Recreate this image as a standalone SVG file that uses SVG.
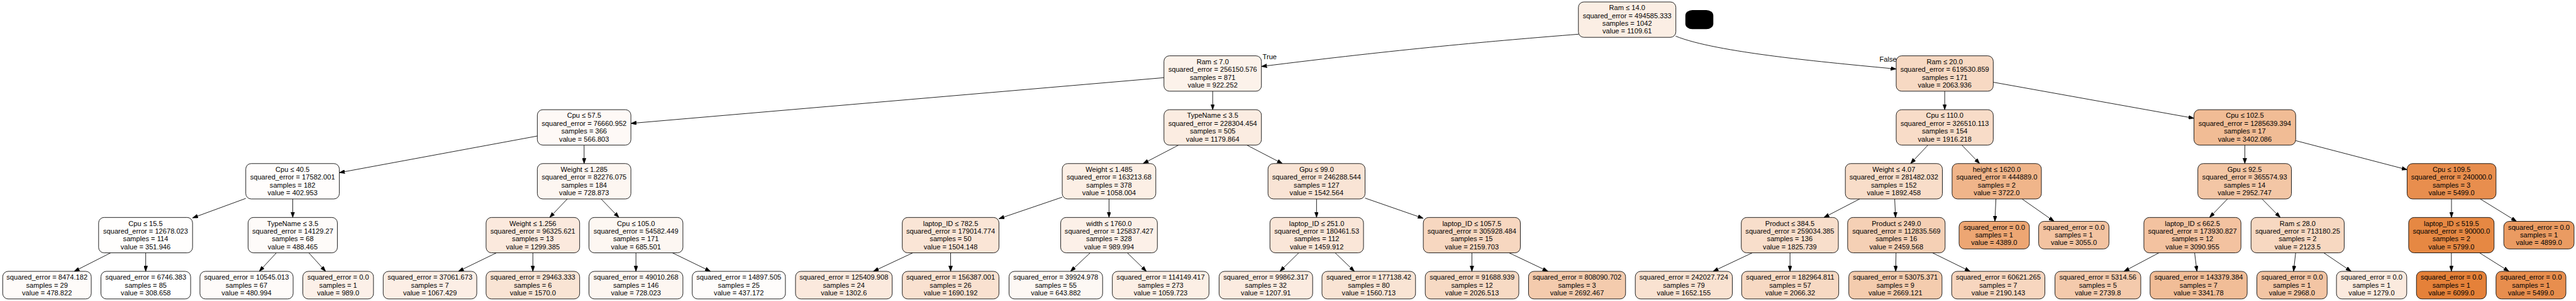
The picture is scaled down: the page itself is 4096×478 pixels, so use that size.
<svg xmlns="http://www.w3.org/2000/svg" width="4096" height="478" viewBox="0 0 4096 478">
<style>
.node rect{stroke:#000;stroke-width:1.4}
.node text,.lbl{font-family:"Liberation Sans",Arial,Helvetica,sans-serif;font-size:18px;fill:#000}
.node text{text-anchor:middle}
.edge{stroke:#000;stroke-width:1.4;fill:none;marker-end:url(#arr)}
</style>
<defs>
<marker id="arr" markerUnits="userSpaceOnUse" markerWidth="14" markerHeight="10" viewBox="0 0 14 10" refX="14" refY="5" orient="auto"><path d="M0,0 L14,5 L0,10 z" fill="#000" stroke="#000" stroke-width="1"/></marker>
</defs>
<rect width="4096" height="478" fill="#fff"/>
<g transform="scale(0.617332)">
<g id="connectors">
<path class="edge" d="M4066,88 C3850,105 3600,127 3249,171"/>
<path class="edge" d="M4316,93 C4420,135 4700,160 4884,177.5"/>
<path class="edge" d="M2998,199.8 L1625,317.4"/>
<path class="edge" d="M3123.5,234.6 L3123.5,282.2"/>
<path class="edge" d="M5009,234.6 L5009,282.2"/>
<path class="edge" d="M5134,211.5 L5651,304.2"/>
<path class="edge" d="M1384,349.9 L874,444.1"/>
<path class="edge" d="M1504.5,373.2 L1504.5,420.8"/>
<path class="edge" d="M3035.8,373.2 L2944.2,420.8"/>
<path class="edge" d="M3211.3,373.2 L3303.2,420.8"/>
<path class="edge" d="M4966,373.2 L4921,420.8"/>
<path class="edge" d="M5053,373.2 L5099,420.8"/>
<path class="edge" d="M5782,373.2 L5782,420.8"/>
<path class="edge" d="M5913,361.8 L6200,436.5"/>
<path class="edge" d="M633,510.4 L496,560.6"/>
<path class="edge" d="M754,511.8 L754,559.4"/>
<path class="edge" d="M1461.2,511.8 L1415.8,559.4"/>
<path class="edge" d="M1548.3,511.8 L1594.2,559.4"/>
<path class="edge" d="M2736,507.2 L2573,562.6"/>
<path class="edge" d="M2856.5,511.8 L2856.5,559.4"/>
<path class="edge" d="M3391,511.8 L3391,559.4"/>
<path class="edge" d="M3516,509.6 L3666,561.6"/>
<path class="edge" d="M4790,511.8 L4698,559.4"/>
<path class="edge" d="M4880.1,511.8 L4882.4,559.4"/>
<path class="edge" d="M5140.9,511.8 L5138.2,569.4"/>
<path class="edge" d="M5208.2,511.8 L5290.7,569.4"/>
<path class="edge" d="M5737.3,511.8 L5691.2,559.4"/>
<path class="edge" d="M5826.3,511.8 L5873.2,559.4"/>
<path class="edge" d="M6314.3,511.8 L6314.3,559.4"/>
<path class="edge" d="M6388.4,511.8 L6481.9,569.4"/>
<path class="edge" d="M285.1,650.4 L191.1,698"/>
<path class="edge" d="M375.3,650.4 L375.3,698"/>
<path class="edge" d="M711.9,650.4 L667.8,698"/>
<path class="edge" d="M795.4,650.4 L838.7,698"/>
<path class="edge" d="M1278.7,650.4 L1180.6,698"/>
<path class="edge" d="M1372.5,650.4 L1372.5,698"/>
<path class="edge" d="M1638,650.4 L1638,698"/>
<path class="edge" d="M1731.8,650.4 L1829.9,698"/>
<path class="edge" d="M2351.2,650.4 L2249.4,698"/>
<path class="edge" d="M2448.5,650.4 L2448.5,698"/>
<path class="edge" d="M2808,650.4 L2757.3,698"/>
<path class="edge" d="M2903.6,650.4 L2952.8,698"/>
<path class="edge" d="M3345.2,650.4 L3296.7,698"/>
<path class="edge" d="M3438.9,650.4 L3488.5,698"/>
<path class="edge" d="M3791.2,650.4 L3791.2,698"/>
<path class="edge" d="M3886.9,650.4 L3987.2,698"/>
<path class="edge" d="M4513.4,650.4 L4412.3,698"/>
<path class="edge" d="M4610.5,650.4 L4610.5,698"/>
<path class="edge" d="M4883.6,650.4 L4882.7,698"/>
<path class="edge" d="M4977.4,650.4 L5074.5,698"/>
<path class="edge" d="M5560.9,650.4 L5470.7,698"/>
<path class="edge" d="M5652.7,650.4 L5658.6,698"/>
<path class="edge" d="M5912.9,650.4 L5907.5,698"/>
<path class="edge" d="M5985.4,650.4 L6055.9,698"/>
<path class="edge" d="M6314,650.4 L6314,698"/>
<path class="edge" d="M6386.5,650.4 L6462.4,698"/>
<text class="lbl" x="3252" y="151.5">True</text>
<text class="lbl" x="4841" y="158">False</text>
</g>
<rect x="4341" y="26" width="72" height="49" rx="18" ry="14" fill="#000"/>
<g id="n0" class="node"><rect x="4065.5" y="5" width="251" height="91" rx="14" fill="#fbeee4"/><text x="4191" y="26.5">Ram ≤ 14.0</text><text x="4191" y="46.5">squared_error = 494585.333</text><text x="4191" y="66.5">samples = 1042</text><text x="4191" y="86.5">value = 1109.61</text></g>
<g id="n1" class="node"><rect x="2998" y="143.6" width="251" height="91" rx="14" fill="#fcf2ea"/><text x="3123.5" y="165.1">Ram ≤ 7.0</text><text x="3123.5" y="185.1">squared_error = 256150.576</text><text x="3123.5" y="205.1">samples = 871</text><text x="3123.5" y="225.1">value = 922.252</text></g>
<g id="n2" class="node"><rect x="4884" y="143.6" width="250" height="91" rx="14" fill="#f7d9c3"/><text x="5009" y="165.1">Ram ≤ 20.0</text><text x="5009" y="185.1">squared_error = 619530.859</text><text x="5009" y="205.1">samples = 171</text><text x="5009" y="225.1">value = 2063.936</text></g>
<g id="n3" class="node"><rect x="1384" y="282.2" width="241" height="91" rx="14" fill="#fef9f6"/><text x="1504.5" y="303.7">Cpu ≤ 57.5</text><text x="1504.5" y="323.7">squared_error = 76660.952</text><text x="1504.5" y="343.7">samples = 366</text><text x="1504.5" y="363.7">value = 566.803</text></g>
<g id="n4" class="node"><rect x="2998" y="282.2" width="251" height="91" rx="14" fill="#fbece1"/><text x="3123.5" y="303.7">TypeName ≤ 3.5</text><text x="3123.5" y="323.7">squared_error = 228304.454</text><text x="3123.5" y="343.7">samples = 505</text><text x="3123.5" y="363.7">value = 1179.864</text></g>
<g id="n5" class="node"><rect x="4884" y="282.2" width="250" height="91" rx="14" fill="#f8dcc8"/><text x="5009" y="303.7">Cpu ≤ 110.0</text><text x="5009" y="323.7">squared_error = 326510.113</text><text x="5009" y="343.7">samples = 154</text><text x="5009" y="363.7">value = 1916.218</text></g>
<g id="n6" class="node"><rect x="5651" y="282.2" width="262" height="91" rx="14" fill="#f1bc95"/><text x="5782" y="303.7">Cpu ≤ 102.5</text><text x="5782" y="323.7">squared_error = 1285639.394</text><text x="5782" y="343.7">samples = 17</text><text x="5782" y="363.7">value = 3402.086</text></g>
<g id="n7" class="node"><rect x="633" y="420.8" width="241" height="91" rx="14" fill="#fffdfc"/><text x="753.5" y="442.3">Cpu ≤ 40.5</text><text x="753.5" y="462.3">squared_error = 17582.001</text><text x="753.5" y="482.3">samples = 182</text><text x="753.5" y="502.3">value = 402.953</text></g>
<g id="n8" class="node"><rect x="1384" y="420.8" width="241" height="91" rx="14" fill="#fdf6f1"/><text x="1504.5" y="442.3">Weight ≤ 1.285</text><text x="1504.5" y="462.3">squared_error = 82276.075</text><text x="1504.5" y="482.3">samples = 184</text><text x="1504.5" y="502.3">value = 728.873</text></g>
<g id="n9" class="node"><rect x="2736" y="420.8" width="241" height="91" rx="14" fill="#fcefe5"/><text x="2856.5" y="442.3">Weight ≤ 1.485</text><text x="2856.5" y="462.3">squared_error = 163213.68</text><text x="2856.5" y="482.3">samples = 378</text><text x="2856.5" y="502.3">value = 1058.004</text></g>
<g id="n10" class="node"><rect x="3266" y="420.8" width="250" height="91" rx="14" fill="#f9e4d5"/><text x="3391" y="442.3">Gpu ≤ 99.0</text><text x="3391" y="462.3">squared_error = 246288.544</text><text x="3391" y="482.3">samples = 127</text><text x="3391" y="502.3">value = 1542.564</text></g>
<g id="n11" class="node"><rect x="4753" y="420.8" width="250" height="91" rx="14" fill="#f8ddc9"/><text x="4878" y="442.3">Weight ≤ 4.07</text><text x="4878" y="462.3">squared_error = 281482.032</text><text x="4878" y="482.3">samples = 152</text><text x="4878" y="502.3">value = 1892.458</text></g>
<g id="n12" class="node"><rect x="5028" y="420.8" width="230" height="91" rx="14" fill="#f0b58a"/><text x="5143" y="442.3">height ≤ 1620.0</text><text x="5143" y="462.3">squared_error = 444889.0</text><text x="5143" y="482.3">samples = 2</text><text x="5143" y="502.3">value = 3722.0</text></g>
<g id="n13" class="node"><rect x="5661" y="420.8" width="241" height="91" rx="14" fill="#f3c6a5"/><text x="5781.5" y="442.3">Gpu ≤ 92.5</text><text x="5781.5" y="462.3">squared_error = 365574.93</text><text x="5781.5" y="482.3">samples = 14</text><text x="5781.5" y="502.3">value = 2952.747</text></g>
<g id="n14" class="node"><rect x="6200" y="420.8" width="229" height="91" rx="14" fill="#e88e4e"/><text x="6314.5" y="442.3">Cpu ≤ 109.5</text><text x="6314.5" y="462.3">squared_error = 240000.0</text><text x="6314.5" y="482.3">samples = 3</text><text x="6314.5" y="502.3">value = 5499.0</text></g>
<g id="n15" class="node"><rect x="254" y="559.4" width="242" height="91" rx="14" fill="#fffefd"/><text x="375" y="580.9">Cpu ≤ 15.5</text><text x="375" y="600.9">squared_error = 12678.023</text><text x="375" y="620.9">samples = 114</text><text x="375" y="640.9">value = 351.946</text></g>
<g id="n16" class="node"><rect x="639" y="559.4" width="230" height="91" rx="14" fill="#fefbf9"/><text x="754" y="580.9">TypeName ≤ 3.5</text><text x="754" y="600.9">squared_error = 14129.27</text><text x="754" y="620.9">samples = 68</text><text x="754" y="640.9">value = 488.465</text></g>
<g id="n17" class="node"><rect x="1252" y="559.4" width="241" height="91" rx="14" fill="#fbe9dd"/><text x="1372.5" y="580.9">Weight ≤ 1.256</text><text x="1372.5" y="600.9">squared_error = 96325.621</text><text x="1372.5" y="620.9">samples = 13</text><text x="1372.5" y="640.9">value = 1299.385</text></g>
<g id="n18" class="node"><rect x="1517" y="559.4" width="242" height="91" rx="14" fill="#fdf7f2"/><text x="1638" y="580.9">Cpu ≤ 105.0</text><text x="1638" y="600.9">squared_error = 54582.449</text><text x="1638" y="620.9">samples = 171</text><text x="1638" y="640.9">value = 685.501</text></g>
<g id="n19" class="node"><rect x="2324" y="559.4" width="249" height="91" rx="14" fill="#fae5d6"/><text x="2448.5" y="580.9">laptop_ID ≤ 782.5</text><text x="2448.5" y="600.9">squared_error = 179014.774</text><text x="2448.5" y="620.9">samples = 50</text><text x="2448.5" y="640.9">value = 1504.148</text></g>
<g id="n20" class="node"><rect x="2732" y="559.4" width="249" height="91" rx="14" fill="#fcf0e8"/><text x="2856.5" y="580.9">width ≤ 1760.0</text><text x="2856.5" y="600.9">squared_error = 125837.427</text><text x="2856.5" y="620.9">samples = 328</text><text x="2856.5" y="640.9">value = 989.994</text></g>
<g id="n21" class="node"><rect x="3271" y="559.4" width="241" height="91" rx="14" fill="#fae6d8"/><text x="3391.5" y="580.9">laptop_ID ≤ 251.0</text><text x="3391.5" y="600.9">squared_error = 180461.53</text><text x="3391.5" y="620.9">samples = 112</text><text x="3391.5" y="640.9">value = 1459.912</text></g>
<g id="n22" class="node"><rect x="3666" y="559.4" width="250" height="91" rx="14" fill="#f7d7c0"/><text x="3791" y="580.9">laptop_ID ≤ 1057.5</text><text x="3791" y="600.9">squared_error = 305928.484</text><text x="3791" y="620.9">samples = 15</text><text x="3791" y="640.9">value = 2159.703</text></g>
<g id="n23" class="node"><rect x="4485" y="559.4" width="250" height="91" rx="14" fill="#f8decb"/><text x="4610" y="580.9">Product ≤ 384.5</text><text x="4610" y="600.9">squared_error = 259034.385</text><text x="4610" y="620.9">samples = 136</text><text x="4610" y="640.9">value = 1825.739</text></g>
<g id="n24" class="node"><rect x="4759" y="559.4" width="251" height="91" rx="14" fill="#f5d0b5"/><text x="4884.5" y="580.9">Product ≤ 249.0</text><text x="4884.5" y="600.9">squared_error = 112835.569</text><text x="4884.5" y="620.9">samples = 16</text><text x="4884.5" y="640.9">value = 2459.568</text></g>
<g id="n25" class="node"><rect x="5046" y="569.4" width="181" height="71" rx="14" fill="#eda673"/><text x="5136.5" y="590.9">squared_error = 0.0</text><text x="5136.5" y="610.9">samples = 1</text><text x="5136.5" y="630.9">value = 4389.0</text></g>
<g id="n26" class="node"><rect x="5251" y="569.4" width="181" height="71" rx="14" fill="#f3c3a1"/><text x="5341.5" y="590.9">squared_error = 0.0</text><text x="5341.5" y="610.9">samples = 1</text><text x="5341.5" y="630.9">value = 3055.0</text></g>
<g id="n27" class="node"><rect x="5522" y="559.4" width="250" height="91" rx="14" fill="#f3c2a0"/><text x="5647" y="580.9">laptop_ID ≤ 662.5</text><text x="5647" y="600.9">squared_error = 173930.827</text><text x="5647" y="620.9">samples = 12</text><text x="5647" y="640.9">value = 3090.955</text></g>
<g id="n28" class="node"><rect x="5798" y="559.4" width="240" height="91" rx="14" fill="#f7d8c1"/><text x="5918" y="580.9">Ram ≤ 28.0</text><text x="5918" y="600.9">squared_error = 713180.25</text><text x="5918" y="620.9">samples = 2</text><text x="5918" y="640.9">value = 2123.5</text></g>
<g id="n29" class="node"><rect x="6204" y="559.4" width="220" height="91" rx="14" fill="#e68843"/><text x="6314" y="580.9">laptop_ID ≤ 519.5</text><text x="6314" y="600.9">squared_error = 90000.0</text><text x="6314" y="620.9">samples = 2</text><text x="6314" y="640.9">value = 5799.0</text></g>
<g id="n30" class="node"><rect x="6449" y="569.4" width="181" height="71" rx="14" fill="#ea9b62"/><text x="6539.5" y="590.9">squared_error = 0.0</text><text x="6539.5" y="610.9">samples = 1</text><text x="6539.5" y="630.9">value = 4899.0</text></g>
<g id="l1" class="node"><rect x="7" y="698" width="228" height="71" rx="14" fill="#fefbf9"/><text x="121" y="719.5">squared_error = 8474.182</text><text x="121" y="739.5">samples = 29</text><text x="121" y="759.5">value = 478.822</text></g>
<g id="l2" class="node"><rect x="260" y="698" width="231" height="71" rx="14" fill="#ffffff"/><text x="375.5" y="719.5">squared_error = 6746.383</text><text x="375.5" y="739.5">samples = 85</text><text x="375.5" y="759.5">value = 308.658</text></g>
<g id="l3" class="node"><rect x="515" y="698" width="240" height="71" rx="14" fill="#fefbf9"/><text x="635" y="719.5">squared_error = 10545.013</text><text x="635" y="739.5">samples = 67</text><text x="635" y="759.5">value = 480.994</text></g>
<g id="l4" class="node"><rect x="780" y="698" width="182" height="71" rx="14" fill="#fcf0e8"/><text x="871" y="719.5">squared_error = 0.0</text><text x="871" y="739.5">samples = 1</text><text x="871" y="759.5">value = 989.0</text></g>
<g id="l5" class="node"><rect x="987" y="698" width="241" height="71" rx="14" fill="#fceee5"/><text x="1107.5" y="719.5">squared_error = 37061.673</text><text x="1107.5" y="739.5">samples = 7</text><text x="1107.5" y="759.5">value = 1067.429</text></g>
<g id="l6" class="node"><rect x="1252" y="698" width="241" height="71" rx="14" fill="#f9e4d4"/><text x="1372.5" y="719.5">squared_error = 29463.333</text><text x="1372.5" y="739.5">samples = 6</text><text x="1372.5" y="759.5">value = 1570.0</text></g>
<g id="l7" class="node"><rect x="1517" y="698" width="242" height="71" rx="14" fill="#fdf6f1"/><text x="1638" y="719.5">squared_error = 49010.268</text><text x="1638" y="739.5">samples = 146</text><text x="1638" y="759.5">value = 728.023</text></g>
<g id="l8" class="node"><rect x="1783" y="698" width="240" height="71" rx="14" fill="#fefcfb"/><text x="1903" y="719.5">squared_error = 14897.505</text><text x="1903" y="739.5">samples = 25</text><text x="1903" y="759.5">value = 437.172</text></g>
<g id="l9" class="node"><rect x="2049" y="698" width="249" height="71" rx="14" fill="#fbe9dd"/><text x="2173.5" y="719.5">squared_error = 125409.908</text><text x="2173.5" y="739.5">samples = 24</text><text x="2173.5" y="759.5">value = 1302.6</text></g>
<g id="l10" class="node"><rect x="2324" y="698" width="249" height="71" rx="14" fill="#f9e1d0"/><text x="2448.5" y="719.5">squared_error = 156387.001</text><text x="2448.5" y="739.5">samples = 26</text><text x="2448.5" y="759.5">value = 1690.192</text></g>
<g id="l11" class="node"><rect x="2599" y="698" width="241" height="71" rx="14" fill="#fdf8f4"/><text x="2719.5" y="719.5">squared_error = 39924.978</text><text x="2719.5" y="739.5">samples = 55</text><text x="2719.5" y="759.5">value = 643.882</text></g>
<g id="l12" class="node"><rect x="2865" y="698" width="249" height="71" rx="14" fill="#fcefe5"/><text x="2989.5" y="719.5">squared_error = 114149.417</text><text x="2989.5" y="739.5">samples = 273</text><text x="2989.5" y="759.5">value = 1059.723</text></g>
<g id="l13" class="node"><rect x="3140" y="698" width="241" height="71" rx="14" fill="#fbebe0"/><text x="3260.5" y="719.5">squared_error = 99862.317</text><text x="3260.5" y="739.5">samples = 32</text><text x="3260.5" y="759.5">value = 1207.91</text></g>
<g id="l14" class="node"><rect x="3405" y="698" width="241" height="71" rx="14" fill="#f9e4d4"/><text x="3525.5" y="719.5">squared_error = 177138.42</text><text x="3525.5" y="739.5">samples = 80</text><text x="3525.5" y="759.5">value = 1560.713</text></g>
<g id="l15" class="node"><rect x="3671" y="698" width="241" height="71" rx="14" fill="#f7dac4"/><text x="3791.5" y="719.5">squared_error = 91688.939</text><text x="3791.5" y="739.5">samples = 12</text><text x="3791.5" y="759.5">value = 2026.513</text></g>
<g id="l16" class="node"><rect x="3937" y="698" width="250" height="71" rx="14" fill="#f4cbad"/><text x="4062" y="719.5">squared_error = 808090.702</text><text x="4062" y="739.5">samples = 3</text><text x="4062" y="759.5">value = 2692.467</text></g>
<g id="l17" class="node"><rect x="4212" y="698" width="250" height="71" rx="14" fill="#f9e2d1"/><text x="4337" y="719.5">squared_error = 242027.724</text><text x="4337" y="739.5">samples = 79</text><text x="4337" y="759.5">value = 1652.155</text></g>
<g id="l18" class="node"><rect x="4486" y="698" width="250" height="71" rx="14" fill="#f7d9c3"/><text x="4611" y="719.5">squared_error = 182964.811</text><text x="4611" y="739.5">samples = 57</text><text x="4611" y="759.5">value = 2066.32</text></g>
<g id="l19" class="node"><rect x="4762" y="698" width="240" height="71" rx="14" fill="#f4ccae"/><text x="4882" y="719.5">squared_error = 53075.371</text><text x="4882" y="739.5">samples = 9</text><text x="4882" y="759.5">value = 2669.121</text></g>
<g id="l20" class="node"><rect x="5027" y="698" width="240" height="71" rx="14" fill="#f7d6bf"/><text x="5147" y="719.5">squared_error = 60621.265</text><text x="5147" y="739.5">samples = 7</text><text x="5147" y="759.5">value = 2190.143</text></g>
<g id="l21" class="node"><rect x="5293" y="698" width="221" height="71" rx="14" fill="#f4caac"/><text x="5403.5" y="719.5">squared_error = 5314.56</text><text x="5403.5" y="739.5">samples = 5</text><text x="5403.5" y="759.5">value = 2739.8</text></g>
<g id="l22" class="node"><rect x="5538" y="698" width="250" height="71" rx="14" fill="#f1bd97"/><text x="5663" y="719.5">squared_error = 143379.384</text><text x="5663" y="739.5">samples = 7</text><text x="5663" y="759.5">value = 3341.78</text></g>
<g id="l23" class="node"><rect x="5813" y="698" width="181" height="71" rx="14" fill="#f3c5a4"/><text x="5903.5" y="719.5">squared_error = 0.0</text><text x="5903.5" y="739.5">samples = 1</text><text x="5903.5" y="759.5">value = 2968.0</text></g>
<g id="l24" class="node"><rect x="6018" y="698" width="181" height="71" rx="14" fill="#fbeade"/><text x="6108.5" y="719.5">squared_error = 0.0</text><text x="6108.5" y="739.5">samples = 1</text><text x="6108.5" y="759.5">value = 1279.0</text></g>
<g id="l25" class="node"><rect x="6224" y="698" width="180" height="71" rx="14" fill="#e58139"/><text x="6314" y="719.5">squared_error = 0.0</text><text x="6314" y="739.5">samples = 1</text><text x="6314" y="759.5">value = 6099.0</text></g>
<g id="l26" class="node"><rect x="6429" y="698" width="180" height="71" rx="14" fill="#e88e4e"/><text x="6519" y="719.5">squared_error = 0.0</text><text x="6519" y="739.5">samples = 1</text><text x="6519" y="759.5">value = 5499.0</text></g>
</g>
</svg>
